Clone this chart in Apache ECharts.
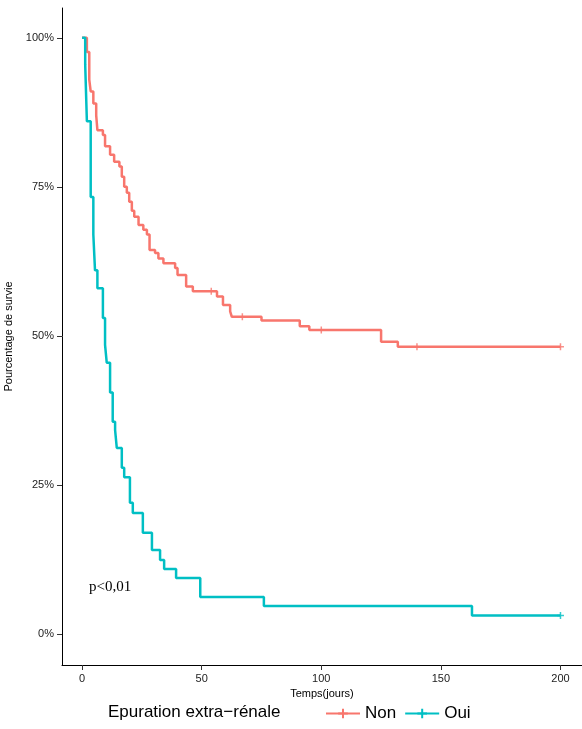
<!DOCTYPE html><html><head><meta charset="utf-8"><script src="https://cdn.jsdelivr.net/npm/echarts@6/dist/echarts.min.js"></script></head><body style="margin:0"><div id="c" style="width:582px;height:729px"></div><script>
const nonT=[0,2,3,3.6,4.7,5.9,6.4,8.7,9.6,11.7,13.4,15.6,16.6,17.6,18.7,19.7,20.8,21.8,23.6,25.6,27.1,28.2,30.5,31.9,34,38.9,39.9,43.5,46.3,56.4,58.9,61.9,62.6,75,91,95,125,132,200];
const nonS=[100,97.6,93,91,89,87,84.5,83.7,81.8,80.4,79.2,78.4,76.7,75,74,72.5,71,70,68.6,67.8,67,64.4,63.9,63,62.2,61.4,60.2,58.3,57.5,56.6,55.2,54.1,53.2,52.6,51.6,51,49,48.2,48.2];
const ouiT=[0,1.3,2,3.6,4.7,5.4,6.4,8.7,9.6,10.3,11.7,12.8,13.8,14.5,16.6,17.6,20,21.2,25.4,29.2,32.6,34.3,39.3,49.4,76,163,200];
const ouiS=[100,95.5,86,73.3,67,61,58,53,48.5,45.5,40.5,35.6,34.2,31.2,27.9,26.3,22,20.3,17,14.1,12.4,10.9,9.4,6.2,4.7,3.1,3.1];
const nonCensT=[54,67,100,140,200];
const nonCensS=[57.5,53.2,51,48.2,48.2];
const ouiCensT=[200];const ouiCensS=[3.1];
const xTicks=[0,50,100,150,200];const yTicks=[0,25,50,75,100];
const z=(a,b)=>a.map((v,i)=>[v,b[i]]);
const plus='path://M0,-1L0,1M-1,0L1,0';
const ch=echarts.init(document.getElementById('c'));
ch.setOption({animation:false,
grid:{left:62,right:0,top:8,bottom:64,outerBoundsMode:'none',containLabel:false},
xAxis:{type:'value',min:-8.4,max:209,name:'Temps(jours)',nameLocation:'middle',nameGap:22,nameTextStyle:{fontSize:11,color:'#000',fontFamily:'Liberation Sans'},
axisLine:{onZero:false,lineStyle:{color:'#000'}},splitLine:{show:false},axisTick:{customValues:xTicks,lineStyle:{color:'#333'}},axisLabel:{customValues:xTicks,color:'#222',fontSize:11,fontFamily:'Liberation Sans'}},
yAxis:{type:'value',min:-5.2,max:105,name:'Pourcentage de survie',nameLocation:'middle',nameGap:37,nameTextStyle:{fontSize:11,color:'#000',fontFamily:'Liberation Sans'},
axisLine:{show:true,onZero:false,lineStyle:{color:'#000'}},splitLine:{show:false},axisTick:{show:true,customValues:yTicks,lineStyle:{color:'#333'}},axisLabel:{customValues:yTicks,formatter:v=>v+'%',color:'#222',fontSize:11,fontFamily:'Liberation Sans'}},
legend:{bottom:2,left:320,itemWidth:34,itemHeight:12,itemGap:8,textStyle:{fontSize:17,fontFamily:'Liberation Sans',color:'#000'},data:['Non','Oui']},
graphic:[{type:'text',left:108,bottom:8,style:{text:'Epuration extra−rénale',fontSize:17,fontFamily:'Liberation Sans',fill:'#000'}},
{type:'text',left:89,top:580,style:{text:'p<0,01',fontSize:15,fontFamily:'Liberation Serif',fill:'#000'}}],
series:[
{name:'Non',type:'line',step:'end',data:z(nonT,nonS),showSymbol:false,symbol:plus,symbolSize:8,lineStyle:{color:'#F8766D',width:2.5},itemStyle:{color:'#F8766D',borderColor:'#F8766D',borderWidth:1.5}},
{name:'Oui',type:'line',step:'end',data:z(ouiT,ouiS),showSymbol:false,symbol:plus,symbolSize:8,lineStyle:{color:'#00BFC4',width:2.5},itemStyle:{color:'#00BFC4',borderColor:'#00BFC4',borderWidth:1.5}},
{type:'scatter',data:z(nonCensT,nonCensS),symbol:plus,symbolSize:7,itemStyle:{color:'none',borderColor:'#F8766D',borderWidth:1.5}},
{type:'scatter',data:z(ouiCensT,ouiCensS),symbol:plus,symbolSize:7,itemStyle:{color:'none',borderColor:'#00BFC4',borderWidth:1.5}}
]});
</script></body></html>
